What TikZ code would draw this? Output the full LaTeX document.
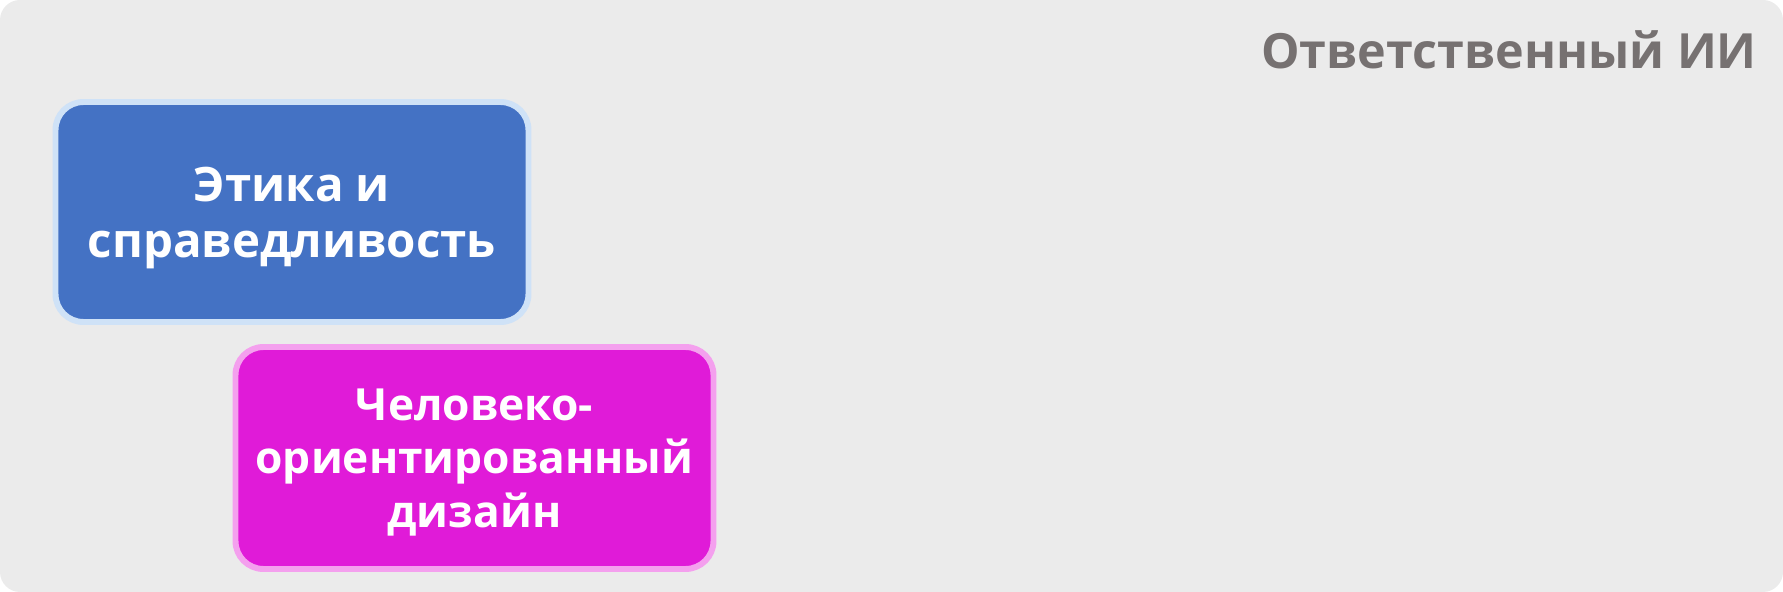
\documentclass[tikz,border=0pt]{standalone}
\usepackage{fontspec}
\setmainfont{Open Sans}
\definecolor{panelgray}{HTML}{EBEBEB}
\definecolor{titlegray}{HTML}{767171}
\definecolor{ethicsblue}{HTML}{4472C4}
\definecolor{ethicsrim}{HTML}{CFE2F7}
\definecolor{designpink}{HTML}{E01BD8}
\definecolor{designrim}{HTML}{F4A0EE}
\begin{document}
\begin{tikzpicture}[
        semithick ,
        topic/.style ={ draw, line width=1.7pt, rounded corners=0.28cm, text=white, align=center, text depth=0pt,
            inner xsep=0.1cm, font=\fontsize{13.5}{15.9}\selectfont\bfseries, minimum width=4.73cm, minimum height=2.2cm},
        heading/.style ={ text=titlegray, font=\fontsize{13.8}{17}\selectfont\bfseries, inner sep=0pt},
    ]
    \useasboundingbox (0,0) rectangle (17.83,-5.92);
    \fill[panelgray, rounded corners=0.2cm] (0,0) rectangle (17.83,-5.92);

    \node[heading, anchor=base east] (title) at (17.58,-0.685) {Ответственный ИИ};
    \node[topic, fill=ethicsblue, draw=ethicsrim] (ethics) at (2.92,-2.12) {Этика и\\справедливость};
    \node[topic, fill=designpink, draw=designrim, minimum width=4.78cm, minimum height=2.22cm,
        font=\fontsize{12.6}{15.3}\selectfont\bfseries]
        (design) at (4.745,-4.58) {Человеко-\\ориентированный\\дизайн};
\end{tikzpicture}
\end{document}
